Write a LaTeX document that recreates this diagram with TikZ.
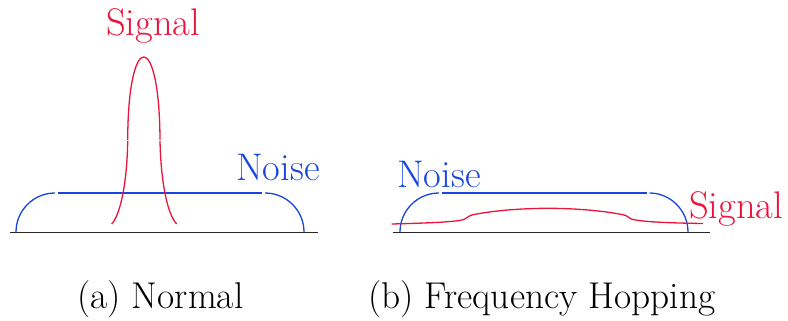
\documentclass[tikz,border=0pt]{standalone}
\definecolor{sigred}{RGB}{235,20,60}
\definecolor{noiseblue}{RGB}{25,70,225}
\begin{document}
\begin{tikzpicture}[x=1pt,y=-1pt,
  lbl/.style={anchor=base west,inner sep=0pt,font=\rmfamily\fontsize{38.5}{42}\selectfont},
  captext/.style={anchor=base west,inner sep=0pt,font=\rmfamily\fontsize{37.3}{42}\selectfont},
  noisecurve/.style={draw=noiseblue,line width=1.3pt},
  sigcurve/.style={draw=sigred,line width=1.3pt},
  axis/.style={draw=black!85,line width=1.5pt}]
\useasboundingbox (0,0) rectangle (788,321);
% ---------- (a) Normal ----------
\draw[axis] (10,232.5) -- (318,232.5);
\draw[noisecurve] (16,232) .. controls (16,210.5) and (33.5,193) .. (55,193);
\draw[noisecurve] (58,193) -- (262,193);
\draw[noisecurve] (265,193) .. controls (286.5,193) and (304,210.5) .. (304,232);
\draw[sigcurve] (127.7,140) .. controls (128,29.3) and (159.5,29.3) .. (160,140);
\draw[sigcurve] (127.7,141) .. controls (127,185) and (120,215) .. (111.7,224);
\draw[sigcurve] (160,141) .. controls (161,185) and (168,215) .. (176.7,224);
\node[lbl,text=sigred] (sigA) at (106,36) {Signal};
\node[lbl,text=noiseblue] (noiseA) at (236,180) {Noise};
% ---------- (b) Frequency Hopping ----------
\draw[axis] (393,232.5) -- (710,232.5);
\draw[noisecurve] (400,232) .. controls (400,210.5) and (417.5,193) .. (439,193);
\draw[noisecurve] (441.5,193) -- (647,193);
\draw[noisecurve] (649.5,193) .. controls (670.5,193) and (688,210.5) .. (688,232);
\draw[sigcurve] (391.7,224) .. controls (430,223) and (455,222) .. (464,219.5)
  .. controls (467,218.5) and (468,216) .. (472,215)
  .. controls (490,211) and (520,208.3) .. (548,208.3)
  .. controls (576,208.3) and (606,211) .. (624,215)
  .. controls (628,216) and (629,218.5) .. (633,219.5)
  .. controls (645,222) and (670,223) .. (703,223.5);
\node[lbl,text=noiseblue] (noiseB) at (397,187) {Noise};
\node[lbl,text=sigred] (sigB) at (689,218) {Signal};
% ---------- captions ----------
\node[captext] (capA) at (77,308) {(a) Normal};
\node[captext] (capB) at (368,308) {(b) Frequency Hopping};
\end{tikzpicture}
\end{document}
